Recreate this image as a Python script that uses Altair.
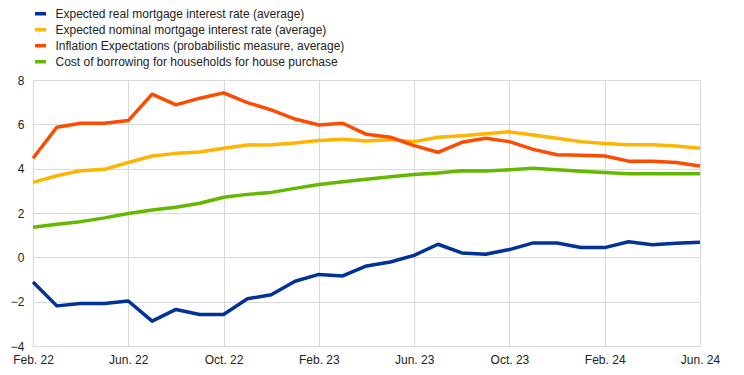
import altair as alt
import pandas as pd

months = ["Feb. 22", "Mar. 22", "Apr. 22", "May. 22", "Jun. 22", "Jul. 22", "Aug. 22", "Sep. 22",
          "Oct. 22", "Nov. 22", "Dec. 22", "Jan. 23", "Feb. 23", "Mar. 23", "Apr. 23", "May. 23",
          "Jun. 23", "Jul. 23", "Aug. 23", "Sep. 23", "Oct. 23", "Nov. 23", "Dec. 23", "Jan. 24",
          "Feb. 24", "Mar. 24", "Apr. 24", "May. 24", "Jun. 24"]

real_rate = [-1.11, -2.19, -2.08, -2.08, -1.97, -2.88, -2.35, -2.58, -2.58, -1.87, -1.69, -1.08,
             -0.77, -0.84, -0.39, -0.21, 0.09, 0.59, 0.20, 0.14, 0.35, 0.65, 0.65, 0.44,
             0.44, 0.70, 0.57, 0.63, 0.68]
nominal_rate = [3.38, 3.68, 3.91, 3.97, 4.28, 4.57, 4.69, 4.75, 4.92, 5.07, 5.08, 5.16,
                5.27, 5.33, 5.25, 5.31, 5.22, 5.42, 5.49, 5.58, 5.66, 5.52, 5.37, 5.22,
                5.14, 5.08, 5.08, 5.02, 4.92]
inflation_exp = [4.47, 5.87, 6.05, 6.05, 6.17, 7.36, 6.88, 7.18, 7.42, 6.98, 6.65, 6.24,
                 5.97, 6.05, 5.55, 5.42, 5.04, 4.74, 5.19, 5.37, 5.22, 4.87, 4.63, 4.60,
                 4.57, 4.34, 4.34, 4.28, 4.12]
cost_borrowing = [1.36, 1.49, 1.61, 1.78, 1.98, 2.14, 2.26, 2.44, 2.71, 2.84, 2.93, 3.11,
                  3.29, 3.41, 3.52, 3.64, 3.74, 3.80, 3.91, 3.90, 3.95, 4.02, 3.95, 3.88,
                  3.83, 3.77, 3.77, 3.77, 3.77]

series_names = [
    "Expected real mortgage interest rate (average)",
    "Expected nominal mortgage interest rate (average)",
    "Inflation Expectations (probabilistic measure, average)",
    "Cost of borrowing for households for house purchase",
]
series_values = [real_rate, nominal_rate, inflation_exp, cost_borrowing]
colors = ["#003299", "#ffb400", "#ff4b00", "#65b800"]

rows = []
for name, vals in zip(series_names, series_values):
    for i, (m, v) in enumerate(zip(months, vals)):
        rows.append({"idx": i, "month": m, "value": v, "series": name})
df = pd.DataFrame(rows)

tick_idx = list(range(0, len(months), 4))
label_arr = "[" + ",".join("'" + months[i] + "'" for i in tick_idx) + "]"

chart = alt.Chart(df).mark_line(strokeWidth=3.5, strokeJoin="round").encode(
    x=alt.X("idx:Q", title=None,
            scale=alt.Scale(domain=[0, len(months) - 1], nice=False, zero=False),
            axis=alt.Axis(values=tick_idx, labelExpr=label_arr + "[datum.value/4]",
                          grid=True, gridColor="#d9d9d9", domain=False, ticks=False,
                          labelPadding=8, labelFontSize=12, labelFont="Liberation Sans",
                          labelColor="#222222", labelFlush=False)),
    y=alt.Y("value:Q", title=None,
            scale=alt.Scale(domain=[-4, 8], nice=False),
            axis=alt.Axis(values=[-4, -2, 0, 2, 4, 6, 8], grid=True, gridColor="#d9d9d9",
                          domain=False, ticks=False, labelPadding=9, labelFontSize=12,
                          labelFont="Liberation Sans", labelColor="#222222")),
    color=alt.Color("series:N", sort=series_names,
                    scale=alt.Scale(domain=series_names, range=colors),
                    legend=alt.Legend(title=None, orient="none", legendX=0, legendY=-73.75,
                                      direction="vertical", symbolType="stroke",
                                      symbolSize=121, symbolStrokeWidth=3.5, labelFontSize=12,
                                      labelFont="Liberation Sans", labelColor="#222222",
                                      rowPadding=1, padding=0, labelOffset=7.5,
                                      labelLimit=500)),
    order=alt.Order("idx:Q"),
).properties(
    width=667, height=266,
    padding={"left": 25, "top": 72, "right": 20, "bottom": 21},
    autosize=alt.AutoSizeParams(type="none"),
).configure_view(stroke=None)

chart.save("out.html", embed_options={"renderer": "svg", "actions": False})
